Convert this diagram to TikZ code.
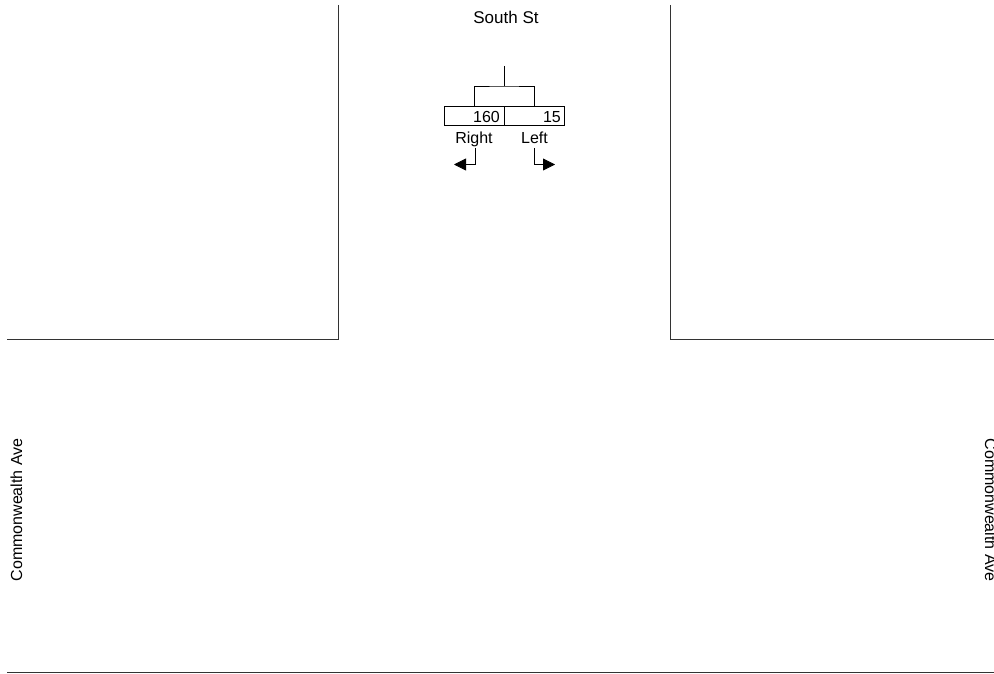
\documentclass[tikz,border=0pt]{standalone}
\usepackage{fontspec}
\setmainfont{Liberation Sans}
\usetikzlibrary{arrows.meta}
\begin{document}
\begin{tikzpicture}[x=1pt,y=-1pt,
  road/.style={line width=1pt, draw=black!80},
  lbl/.style={font=\fontsize{16}{19}\selectfont, inner sep=0pt},
  cell/.style={draw, line width=0.8pt, minimum width=60pt, minimum height=19pt, inner sep=0pt},
  wire/.style={line width=0.8pt},
  turn/.style={line width=0.8pt, -{Triangle[length=12pt,width=12pt]}}]
\useasboundingbox (0,0) rectangle (994,674);
% streets
\coordinate (lt) at (338.5,5);
\coordinate (lc) at (338.5,339.3);
\coordinate (ll) at (7,339.3);
\coordinate (rt) at (670.3,5);
\coordinate (rc) at (670.3,339.3);
\coordinate (rr) at (994,339.3);
\coordinate (bl) at (7,672.7);
\coordinate (br) at (994,672.7);
\draw[road] (lt) -- (lc) -- (ll);
\draw[road] (rt) -- (rc) -- (rr);
\draw[road] (bl) -- (br);
% labels
\node[lbl, anchor=base, font=\fontsize{17}{20}\selectfont] (south) at (506,23.3) {South St};
\node[lbl, anchor=base, rotate=90] (cwl) at (22,510) {Commonwealth Ave};
\node[lbl, anchor=base, rotate=-90] (cwr) at (985,510) {Commonwealth Ave};
% lane box
\node[cell] (lcell) at (474,115.5) {};
\node[cell] (rcell) at (534,115.5) {};
\node[lbl, anchor=base east] (n160) at (500,123) {160};
\node[lbl, anchor=base east] (n15) at (561,123) {15};
\coordinate (top) at (504,66);
\coordinate (j) at (504,86);
\draw[wire] (top) -- (j);
\draw[wire] (lcell.north) |- (j) -| (rcell.north);
% movements
\node[lbl, anchor=base] (right) at (474,143.3) {Right};
\node[lbl, anchor=base] (left) at (534.5,143.3) {Left};
\coordinate (ra) at (475,148);
\coordinate (rb) at (475,164.5);
\coordinate (rtip) at (454,164.5);
\coordinate (la) at (534,148);
\coordinate (lb) at (534,164.5);
\coordinate (ltip) at (555,164.5);
\draw[turn] (ra) -- (rb) -- (rtip);
\draw[turn] (la) -- (lb) -- (ltip);
\end{tikzpicture}
\end{document}
